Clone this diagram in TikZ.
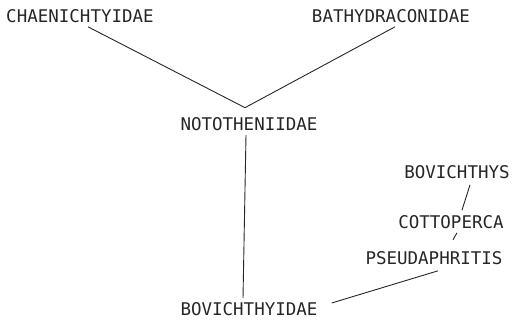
\documentclass[tikz,border=0pt]{standalone}
\usepackage{fontspec}
\usepackage{xcolor}
\usepackage{tikz}
\newfontfamily\taxonfont{DejaVu Sans Mono}

\begin{document}
\begin{tikzpicture}[
    x=1pt, y=-1pt,
    taxon/.style={font=\taxonfont\fontsize{17.5}{20}\selectfont, text=black!85, inner sep=4pt},
    branch/.style={draw=black!85, line width=0.9pt}
]
\useasboundingbox (0,0) rectangle (515,322);

% Families
\node[taxon] (chaen) at (80,16) {CHAENICHTYIDAE};
\node[taxon] (bathy) at (391,16) {BATHYDRACONIDAE};
\node[taxon] (noto) at (249,124) {NOTOTHENIIDAE};
\node[taxon] (bovi) at (249,309) {BOVICHTHYIDAE};

% Genera
\node[taxon] (bovichthys) at (457,172) {BOVICHTHYS};
\node[taxon] (cotto) at (451,222) {COTTOPERCA};
\node[taxon] (pseud) at (434,258) {PSEUDAPHRITIS};

% Branches
\draw[branch] ([xshift=8pt]chaen.south) -- ([xshift=-4pt,yshift=5.5pt]noto.north);
\draw[branch] ([xshift=4pt]bathy.south) -- ([xshift=-4pt,yshift=5.5pt]noto.north);
\draw[branch] ([xshift=-3pt]noto.south) -- ([xshift=-6pt]bovi.north);
\draw[branch] ([xshift=13pt,yshift=-2pt]bovichthys.south) -- ([xshift=11pt,yshift=1pt]cotto.north);
\draw[branch] ([xshift=6pt]cotto.south) -- ([xshift=19pt,yshift=7.5pt]pseud.north);
\draw[branch] ([xshift=4pt,yshift=-2pt]pseud.south) -- ([xshift=10pt,yshift=6pt]bovi.east);

\end{tikzpicture}
\end{document}
